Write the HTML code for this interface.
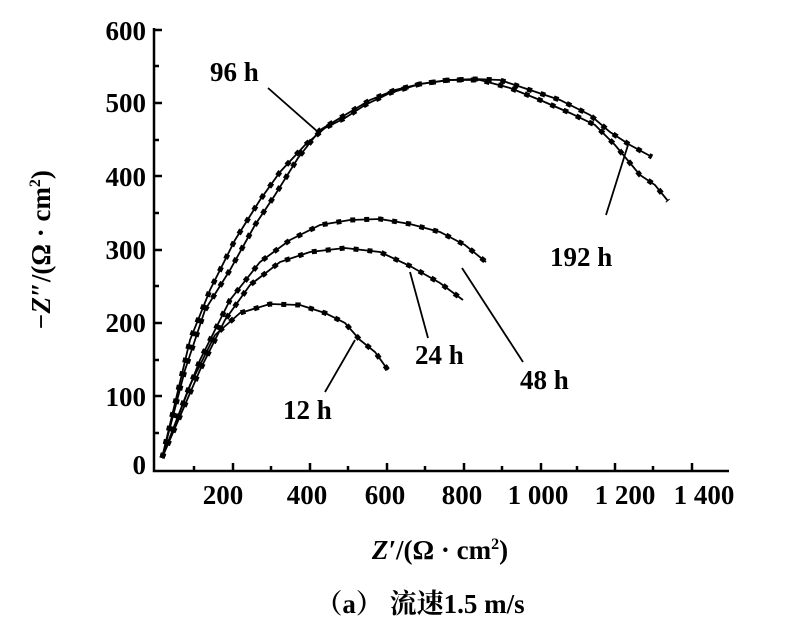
<!DOCTYPE html><html><head><style>body{margin:0;background:#fff}</style></head><body>
<svg width="800" height="629" viewBox="0 0 800 629" xmlns="http://www.w3.org/2000/svg" font-family="Liberation Serif, Noto Serif CJK SC, serif" font-weight="bold">
<g stroke="#000" stroke-width="2.5" fill="none">
<path d="M154,28 V471 H729"/>
<path d="M154,30 h8 M154,66 h5 M154,103 h8 M154,140 h5 M154,176 h8 M154,213 h5 M154,250 h8 M154,286 h5 M154,323 h8 M154,360 h5 M154,396 h8 M154,433 h5"/>
<path d="M233,471 v-8 M194,471 v-5 M310,471 v-8 M271,471 v-5 M387,471 v-8 M348,471 v-5 M464,471 v-8 M425,471 v-5 M541,471 v-8 M502,471 v-5 M615,471 v-8 M577,471 v-5 M692,471 v-8 M653,471 v-5"/>
</g>
<g font-size="27" text-anchor="end">
<text x="146" y="40">600</text><text x="146" y="112">500</text><text x="146" y="186">400</text><text x="146" y="259">300</text><text x="146" y="332">200</text><text x="146" y="406">100</text><text x="146" y="474">0</text>
</g>
<g font-size="27" text-anchor="middle">
<text x="223" y="504">200</text><text x="307" y="504">400</text><text x="385" y="504">600</text><text x="462" y="504">800</text><text x="538" y="504">1 000</text><text x="625" y="504">1 200</text><text x="704" y="504">1 400</text>
</g>
<g stroke="#000" stroke-width="1.8" fill="none">
<polyline points="162,458 185,370 205,310 230,270 255,225 275,195 298,158 320,130 345,115 370,100 395,90 420,84 450,80 475,79 500,80 530,90 560,100 590,115 610,132 630,145 652,157"/>
<polyline points="162,458 190,340 210,290 235,240 260,200 280,172 305,145 325,128 345,118 365,105 390,93 420,84 448,80 480,80 510,88 540,100 570,113 595,125 615,145 640,175 655,185 668,201"/>
<polyline points="162,458 200,360 230,300 260,262 290,240 320,225 350,220 380,219 410,224 440,232 465,245 486,262"/>
<polyline points="162,458 200,370 225,320 250,285 280,262 310,252 345,248 380,252 410,266 440,283 463,300"/>
<polyline points="162,458 190,385 215,335 240,313 270,304 300,305 325,313 345,323 360,340 375,352 388,370"/>
</g>
<g stroke="#000" stroke-width="5" fill="none" stroke-dasharray="5 9">
<polyline points="162,458 185,370 205,310 230,270 255,225 275,195 298,158 320,130 345,115 370,100 395,90 420,84 450,80 475,79 500,80 530,90 560,100 590,115 610,132 630,145 652,157"/>
<polyline points="162,458 190,340 210,290 235,240 260,200 280,172 305,145 325,128 345,118 365,105 390,93 420,84 448,80 480,80 510,88 540,100 570,113 595,125 615,145 640,175 655,185 668,201"/>
<polyline points="162,458 200,360 230,300 260,262 290,240 320,225 350,220 380,219 410,224 440,232 465,245 486,262"/>
<polyline points="162,458 200,370 225,320 250,285 280,262 310,252 345,248 380,252 410,266 440,283 463,300"/>
<polyline points="162,458 190,385 215,335 240,313 270,304 300,305 325,313 345,323 360,340 375,352 388,370"/>
</g>
<g stroke="#000" stroke-width="1.8">
<line x1="268" y1="88" x2="318" y2="132"/>
<line x1="606" y1="215" x2="628" y2="145"/>
<line x1="523" y1="362" x2="462" y2="268"/>
<line x1="428" y1="338" x2="410" y2="272"/>
<line x1="325" y1="392" x2="355" y2="340"/>
</g>
<g font-size="27">
<text x="210" y="81">96 h</text><text x="550" y="266">192 h</text><text x="520" y="389">48 h</text><text x="415" y="364">24 h</text><text x="283" y="419">12 h</text>
</g>
<text transform="translate(50,250) rotate(-90)" text-anchor="middle" font-size="27"><tspan font-style="italic">−Z″</tspan>/(Ω · cm<tspan font-size="16" dy="-10">2</tspan><tspan dy="10">)</tspan></text>
<text x="440" y="559" text-anchor="middle" font-size="27"><tspan font-style="italic">Z′</tspan>/(Ω · cm<tspan font-size="16" dy="-10">2</tspan><tspan dy="10">)</tspan></text>
<text x="420" y="613" text-anchor="middle" font-size="27">（a） 流速1.5 m/s</text>
</svg>
</body></html>
